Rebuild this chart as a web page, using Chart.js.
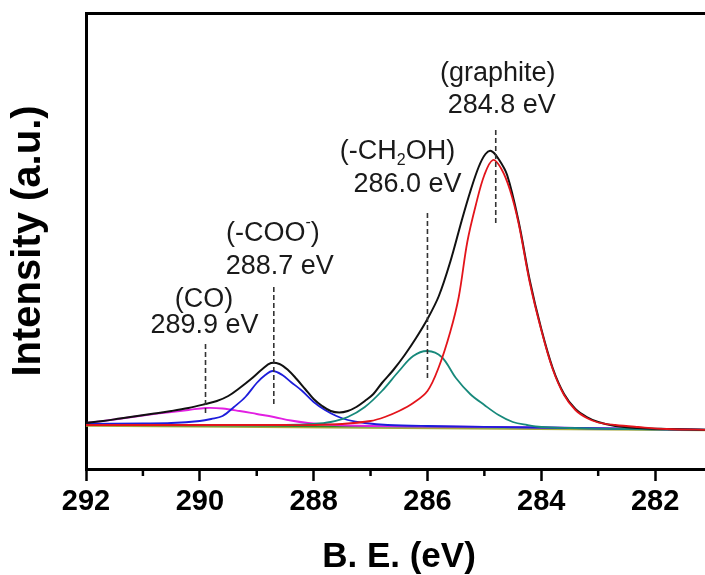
<!DOCTYPE html>
<html>
<head>
<meta charset="utf-8">
<script src="https://cdn.jsdelivr.net/npm/chart.js@4/dist/chart.umd.min.js"></script>
<style>
  html, body { margin: 0; padding: 0; background: #fff; overflow: hidden; }
  #wrap { width: 720px; height: 575px; }
</style>
</head>
<body>
<div id="wrap"><canvas id="xps" width="720" height="575"></canvas></div>
<script>
// ---- C 1s spectrum with fitted components ----
const xTicks = [292, 290, 288, 286, 284, 282];
const xMinor = [291, 289, 287, 285, 283];

// measured envelope
const beRaw = [292.0, 291.7, 291.4, 291.1, 290.8, 290.5, 290.2, 289.9, 289.7, 289.5, 289.3, 289.1, 288.9, 288.75, 288.6, 288.45, 288.3, 288.15, 288.0, 287.85, 287.7, 287.55, 287.4, 287.25, 287.1, 286.95, 286.8, 286.6, 286.4, 286.2, 286.0, 285.8, 285.6, 285.4, 285.25, 285.1, 284.98, 284.88, 284.75, 284.6, 284.4, 284.2, 284.0, 283.8, 283.6, 283.4, 283.2, 283.0, 282.7, 282.3, 281.8, 281.0];
const intRaw = [44, 46, 48.5, 51, 53.5, 56, 59, 63, 66, 71, 79, 88, 98, 104, 103, 97, 88, 78, 68, 61, 56, 54.5, 56, 60, 66, 73, 84, 97, 112, 129, 148, 171, 205, 246, 275, 300, 313, 316, 308, 292, 246, 186, 138, 99, 73, 58, 50, 45, 41, 39, 38, 37];

// graphite 284.8 eV
const beGraphite = [292.0, 290.0, 288.5, 288.0, 287.5, 287.0, 286.75, 286.5, 286.25, 286.0, 285.8, 285.6, 285.45, 285.3, 285.15, 285.0, 284.85, 284.7, 284.55, 284.4, 284.2, 284.0, 283.8, 283.6, 283.4, 283.2, 283.0, 282.7, 282.3, 281.8, 281.0];
const intGraphite = [42, 42, 42, 42, 43, 46, 50, 56, 64, 76, 100, 135, 170, 225, 262, 292, 307, 298, 277, 244, 184, 137, 98, 72, 57, 49, 44.5, 42, 40, 38, 37];

// -CH2OH 286.0 eV
const beHydroxyl = [292.0, 290.0, 288.5, 288.0, 287.7, 287.4, 287.1, 286.8, 286.5, 286.25, 286.0, 285.75, 285.5, 285.25, 285.0, 284.75, 284.5, 284.25, 284.0, 283.5, 282.5, 281.0];
const intHydroxyl = [42, 42, 42, 43, 45, 50, 60, 76, 96, 111, 116, 110, 89, 73, 62, 52, 45, 42, 40, 39, 38, 37];

// -COO- 288.7 eV
const beCarboxyl = [292.0, 291.0, 290.5, 290.0, 289.8, 289.6, 289.4, 289.2, 289.0, 288.85, 288.72, 288.55, 288.4, 288.2, 288.0, 287.8, 287.6, 287.4, 287.1, 286.7, 286.0, 284.0, 281.0];
const intCarboxyl = [43, 43.5, 44, 46, 48, 51, 60, 70, 84, 92, 96, 92, 85, 76, 65, 57, 51, 47, 44, 42, 41, 39.5, 37];

// CO 289.9 eV
const beCO = [292.0, 291.5, 291.0, 290.5, 290.2, 289.9, 289.6, 289.3, 289.0, 288.7, 288.4, 288.1, 287.8, 287.4, 287.0, 286.0, 284.0, 281.0];
const intCO = [44, 47.5, 51.5, 55, 57, 59, 58.5, 56, 53, 50, 46.5, 44, 42.5, 41.5, 41, 40.5, 39.5, 37];

// backgrounds
const beBg1 = [292.0, 286.0, 281.0];
const intBg1 = [42, 40, 37.5];
const beBg2 = [292.0, 281.0];
const intBg2 = [41, 36.5];

// peak markers
const peakNames = ['CO', 'COO', 'CH2OH', 'graphite'];
const peakPos = [289.9, 288.7, 286.0, 284.8];
const peakValues = ['289.9 eV', '288.7 eV', '286.0 eV', '284.8 eV'];
const dashTop = [124, 183, 255, 340];
const dashBottom = [54, 63, 89, 244];

const pts = (xs, ys) => xs.map((x, i) => ({ x, y: ys[i] }));

const curve = (label, xs, ys, color, order, width) => ({
  label, data: pts(xs, ys), borderColor: color, borderWidth: width || 1.8,
  pointRadius: 0, fill: false, tension: 0.35, order,
});

const datasets = [
  curve('bg2', beBg2, intBg2, '#a8a83c', 9, 1.6),
  curve('bg1', beBg1, intBg1, '#2f8a2f', 8, 1.6),
  curve('CO', beCO, intCO, '#e21fe2', 6),
  curve('COO', beCarboxyl, intCarboxyl, '#1d1ddb', 5),
  curve('CH2OH', beHydroxyl, intHydroxyl, '#17897b', 4),
  curve('raw', beRaw, intRaw, '#111111', 2, 2),
  curve('graphite', beGraphite, intGraphite, '#e3141b', 1),
];
peakPos.forEach((p, i) => {
  datasets.push({
    label: 'mark ' + peakNames[i],
    data: [{ x: p, y: dashBottom[i] }, { x: p, y: dashTop[i] }],
    borderColor: '#333', borderWidth: 1.6, borderDash: [5, 3],
    pointRadius: 0, order: 0,
  });
});

// first label line per peak (sub/superscripts split out)
const labelParts = {
  CO: [{ t: '(CO)' }],
  COO: [{ t: '(-COO' }, { t: '-', sup: true }, { t: ')' }],
  CH2OH: [{ t: '(-CH' }, { t: '2', sub: true }, { t: 'OH)' }],
  graphite: [{ t: '(graphite)' }],
};
// [dx1, dy1, dx2, dy2] from the top of each dashed line
const labelOffsets = {
  CO: [-1.5, -43, -1, -17],
  COO: [-1, -50, 6, -17],
  CH2OH: [-30, -60, -20, -27],
  graphite: [2, -53, 6, -21],
};

const FONT = '"Liberation Sans", Arial, Helvetica, sans-serif';

function drawParts(ctx, parts, cx, cy) {
  const big = '27px ' + FONT, small = '16px ' + FONT;
  let w = 0;
  parts.forEach(p => { ctx.font = (p.sub || p.sup) ? small : big; w += ctx.measureText(p.t).width; });
  let x = cx - w / 2;
  parts.forEach(p => {
    ctx.font = (p.sub || p.sup) ? small : big;
    const dy = p.sub ? 9 : p.sup ? -11 : 0;
    ctx.fillText(p.t, x, cy + dy);
    x += ctx.measureText(p.t).width;
  });
}

const peakLabels = {
  id: 'peakLabels',
  afterDatasetsDraw(chart) {
    const { ctx } = chart;
    const xs = chart.scales.x, ys = chart.scales.y;
    ctx.save();
    ctx.fillStyle = '#1a1a1a';
    ctx.textAlign = 'left';
    ctx.textBaseline = 'middle';
    peakNames.forEach((n, i) => {
      const px = xs.getPixelForValue(peakPos[i]);
      const py = ys.getPixelForValue(dashTop[i]);
      const o = labelOffsets[n];
      drawParts(ctx, labelParts[n], px + o[0], py + o[1]);
      drawParts(ctx, [{ t: peakValues[i] }], px + o[2], py + o[3]);
    });
    ctx.restore();
  },
};

// shorter unlabeled ticks between the numbered ones
const minorTicks = {
  id: 'minorTicks',
  afterDraw(chart) {
    const { ctx } = chart;
    const xs = chart.scales.x;
    const y0 = chart.chartArea.bottom;
    ctx.save();
    ctx.strokeStyle = '#000';
    ctx.lineWidth = 2.5;
    xMinor.forEach(v => {
      const x = xs.getPixelForValue(v);
      ctx.beginPath();
      ctx.moveTo(x, y0);
      ctx.lineTo(x, y0 + 7);
      ctx.stroke();
    });
    ctx.restore();
  },
};

new Chart(document.getElementById('xps').getContext('2d'), {
  type: 'line',
  data: { datasets },
  plugins: [peakLabels, minorTicks],
  options: {
    responsive: false,
    animation: false,
    devicePixelRatio: 1,
    layout: { padding: { left: 0, right: 8, top: 0, bottom: 0 } },
    plugins: { legend: { display: false }, tooltip: { enabled: false } },
    scales: {
      x: {
        type: 'linear', reverse: true, min: 281, max: 292,
        afterBuildTicks: s => { s.ticks = xTicks.map(v => ({ value: v })); },
        afterFit: s => { s.height = 106; },
        ticks: { color: '#000', font: { family: FONT, size: 29, weight: 'bold' }, padding: 4, maxRotation: 0 },
        grid: { display: true, drawOnChartArea: false, drawTicks: true, tickLength: 12, tickWidth: 2.5, tickColor: '#000' },
        border: { display: true, color: '#000', width: 3 },
        title: { display: true, text: 'B. E. (eV)', color: '#000', font: { family: FONT, size: 35, weight: 'bold', lineHeight: 1 }, padding: { top: 0, bottom: 0 } },
      },
      xTop: {
        type: 'linear', position: 'top', reverse: true, min: 281, max: 292,
        afterFit: s => { s.height = 13; },
        ticks: { display: false },
        grid: { display: false },
        border: { display: true, color: '#000', width: 3 },
      },
      y: {
        type: 'linear', min: -2, max: 454,
        afterFit: s => { s.width = 86; },
        ticks: { display: false },
        grid: { display: false },
        border: { display: true, color: '#000', width: 3 },
        title: { display: true, text: 'Intensity (a.u.)', color: '#000', font: { family: FONT, size: 40, weight: 'bold', lineHeight: 1 }, padding: { top: 9, bottom: 0 } },
      },
    },
  },
});
</script>
</body>
</html>
